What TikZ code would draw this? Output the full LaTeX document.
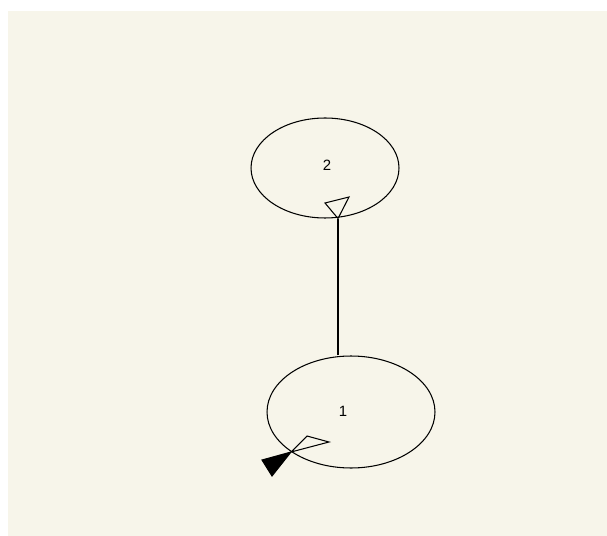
\documentclass[tikz,border=0pt]{standalone}
\usepackage{fontspec}
\setmainfont{Liberation Sans}
\usepackage{xcolor}
\usetikzlibrary{shapes.geometric}

\definecolor{paper}{HTML}{F7F5EA}

\begin{document}
\begin{tikzpicture}[
    x=0.02cm, y=-0.02cm,
    statenode/.style={ellipse, draw, line width=0.6pt, inner sep=0pt},
    statelabel/.style={inner sep=0pt, font=\fontsize{8.5}{9}\selectfont},
    edgeline/.style={line width=0.6pt},
    openhead/.style={draw, line width=0.6pt, line join=miter},
    fullhead/.style={draw, fill=black, line width=0.6pt}
]

% Canvas and background
\useasboundingbox (0,0) rectangle (607,536);
\fill[paper] (8,11) rectangle (607,536);

% States
\node[statenode, minimum width=2.96cm, minimum height=2.0cm] (s2) at (325,168) {};
\node[statenode, minimum width=3.36cm, minimum height=2.24cm] (s1) at (351,412) {};
\node[statelabel] (l2) at (327,165) {2};
\node[statelabel] (l1) at (343,411) {1};

% Transition from 1 to 2
\coordinate (lx) at (338,0);
\draw[edgeline] (lx |- s1.north) -- (lx |- s2.south) coordinate (t2);
\draw[openhead] (t2) -- (325,203) -- (349,197) -- cycle;

% Start marker on state 1
\coordinate (t1) at (291,452);
\draw[openhead] (t1) -- (307,436) -- (329,442) -- cycle;
\draw[fullhead] (t1) -- (262,460) -- (272,476) -- cycle;

\end{tikzpicture}
\end{document}
